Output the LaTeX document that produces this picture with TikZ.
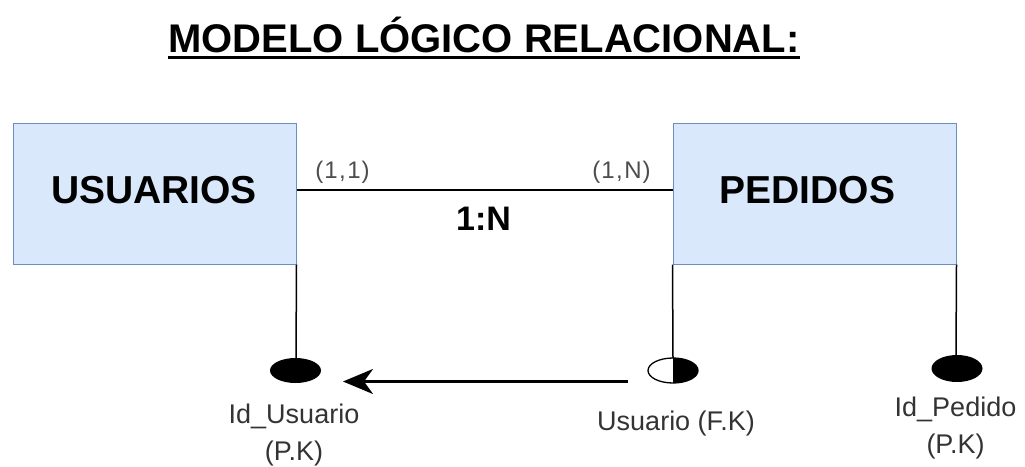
\documentclass[tikz,border=0pt]{standalone}
\usepackage{fontspec}
\setmainfont{Liberation Sans}
\usetikzlibrary{arrows.meta}
\definecolor{boxfill}{HTML}{DAE8FC}
\definecolor{boxdraw}{HTML}{6C8EBF}
\definecolor{lbl}{HTML}{333333}
\definecolor{cardc}{HTML}{4D4D4D}
\tikzset{
  entity/.style={draw=boxdraw, fill=boxfill, line width=1pt, minimum width=283pt, minimum height=141pt, inner sep=0pt},
  entlbl/.style={font=\fontsize{39}{41}\selectfont\bfseries, inner sep=0pt, anchor=base},
  card/.style={text=cardc, font=\fontsize{24}{26}\selectfont, inner sep=0pt, anchor=base},
  attrlbl/.style={text=lbl, font=\fontsize{27}{30}\selectfont, inner sep=0pt, anchor=base},
  link/.style={line width=2.6pt},
  stem/.style={line width=1.5pt},
}
\newcommand{\cardtxt}[2]{(\kern1pt #1\kern1.5pt,\kern1.5pt #2\kern1pt)}
\begin{document}
\begin{tikzpicture}[x=1pt,y=-1pt]
\useasboundingbox (0,0) rectangle (1025,466);
% title
\node[font=\fontsize{40}{44}\selectfont\bfseries, inner sep=0pt, anchor=base] (title) at (484,52) {MODELO LÓGICO RELACIONAL:};
\draw[line width=2.5pt] (title.base west |- 0,57.5) -- (title.base east |- 0,57.5);
% entities
\node[entity] (usu) at (154.5,193.5) {};
\node[entity] (ped) at (814.5,193.5) {};
\node[entlbl] (usut) at (154,203) {USUARIOS};
\node[entlbl] (pedt) at (807.5,203) {PEDIDOS};
% relationship
\draw[link] (usu.east |- 0,190) -- (ped.west |- 0,190);
\node[card] (c11) at (342.5,178) {\cardtxt{1}{1}};
\node[card] (c1n) at (621.5,178) {\cardtxt{1}{N}};
\node[font=\fontsize{34}{36}\selectfont\bfseries, inner sep=0pt, anchor=base] (rel) at (483.5,230) {1:N};
% attributes
\coordinate (a1) at (295.5,370.5);
\coordinate (a2) at (673,370.5);
\coordinate (a3) at (957,368.5);
\draw[stem] (usu.south east) -- (296,358);
\draw[stem] (ped.south west) -- (673,358);
\draw[stem] (ped.south east) -- (956,355);
\fill[black] (a1) ellipse [x radius=25.5, y radius=12.5];
\fill[black] (a3) ellipse [x radius=25.5, y radius=13.5];
\fill[white] (a2) ellipse [x radius=25, y radius=12.5];
\begin{scope}
  \clip (673,340) rectangle (710,400);
  \fill[black] (a2) ellipse [x radius=25, y radius=12.5];
\end{scope}
\draw[line width=1.3pt] (a2) ellipse [x radius=25, y radius=12.5];
% FK arrow
\coordinate (f1) at (628,381.5);
\coordinate (f2) at (343,381.5);
\draw[link, -{Stealth[length=30pt, width=25pt, inset=9pt]}] (f1) -- (f2);
% labels
\node[attrlbl] (l1a) at (294,423) {Id\_Usuario};
\node[attrlbl] (l1b) at (294,460) {(P.K)};
\node[attrlbl] (l2) at (676,430) {Usuario (F.K)};
\node[attrlbl] (l3a) at (955.5,416) {Id\_Pedido};
\node[attrlbl] (l3b) at (955.5,453) {(P.K)};
\end{tikzpicture}
\end{document}
